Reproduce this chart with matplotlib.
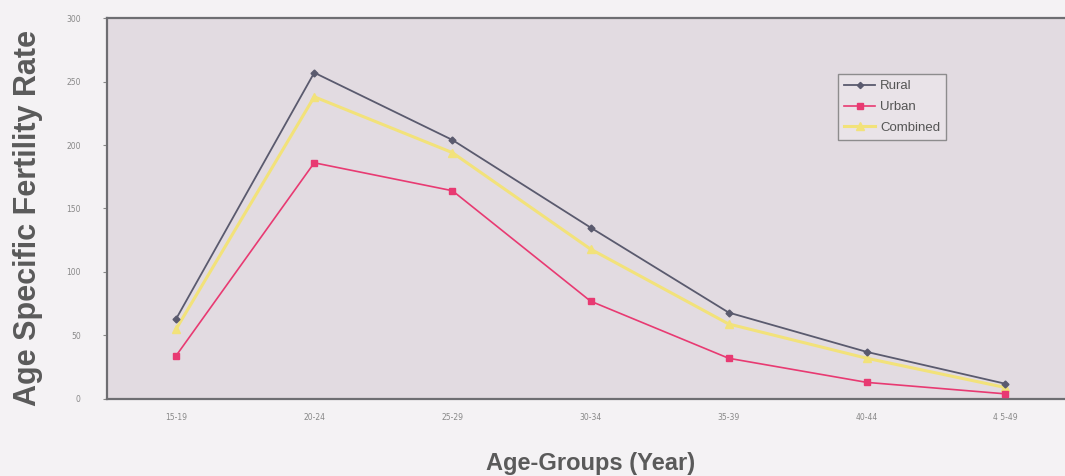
import matplotlib
matplotlib.use('Agg')
import matplotlib.pyplot as plt

age_groups = ['15-19', '20-24', '25-29', '30-34', '35-39', '40-44', '4 5-49']
rural = [63, 257, 204, 135, 68, 37, 12]
urban = [34, 186, 164, 77, 32, 13, 4]
combined = [55, 238, 194, 118, 59, 32, 9]
y_ticks = [0, 50, 100, 150, 200, 250, 300]

fig = plt.figure(figsize=(10.65, 4.76), dpi=100, facecolor='#f4f2f4')
ax = fig.add_axes([0.1005, 0.162, 0.908, 0.800])
ax.set_facecolor('#e2dbe1')

x = range(len(age_groups))
ax.plot(x, rural, color='#5a5a6e', lw=1.3, marker='D', ms=3.5, label='Rural', zorder=4)
ax.plot(x, combined, color='#f2e27a', lw=2.2, marker='^', ms=6, label='Combined', zorder=3)
ax.plot(x, urban, color='#e83a72', lw=1.2, marker='s', ms=5, label='Urban', zorder=3)

ax.set_xlim(-0.5, 6.5)
ax.set_ylim(0, 300)
ax.set_xticks(list(x))
ax.set_xticklabels(age_groups, fontsize=5.5, color='#888888')
ax.set_yticks(y_ticks)
ax.set_yticklabels([str(v) for v in y_ticks], fontsize=5.5, color='#888888')
ax.tick_params(axis='y', length=3, pad=16, color='#888888')
ax.tick_params(axis='x', length=0, pad=10)
for s in ax.spines.values():
    s.set_color('#6e6e72')
    s.set_linewidth(1.6)

ax.set_ylabel('Age Specific Fertility Rate', fontsize=22, fontweight='bold',
              color='#5a5a5a', family=['Liberation Sans', 'DejaVu Sans'])
ax.yaxis.set_label_coords(-0.066, 0.476)
ax.set_xlabel('Age-Groups (Year)', fontsize=17, fontweight='bold',
              color='#5a5a5a', family=['Liberation Sans Narrow', 'Liberation Sans'], labelpad=22)

h, l = ax.get_legend_handles_labels()
order = [0, 2, 1]
leg = ax.legend([h[i] for i in order], [l[i] for i in order],
                loc='upper left', bbox_to_anchor=(0.7495, 0.87),
                frameon=True, fancybox=False, handlelength=2.3, handletextpad=0.4,
                borderpad=0.45, labelspacing=0.65, markerscale=0.9,
                prop={'family': 'Liberation Sans', 'size': 9.5})
leg.get_frame().set_edgecolor('#777777')
leg.get_frame().set_facecolor('#ebe6eb')
for t in leg.get_texts():
    t.set_color('#555555')

plt.savefig('out.png', dpi=100, facecolor=fig.get_facecolor())
